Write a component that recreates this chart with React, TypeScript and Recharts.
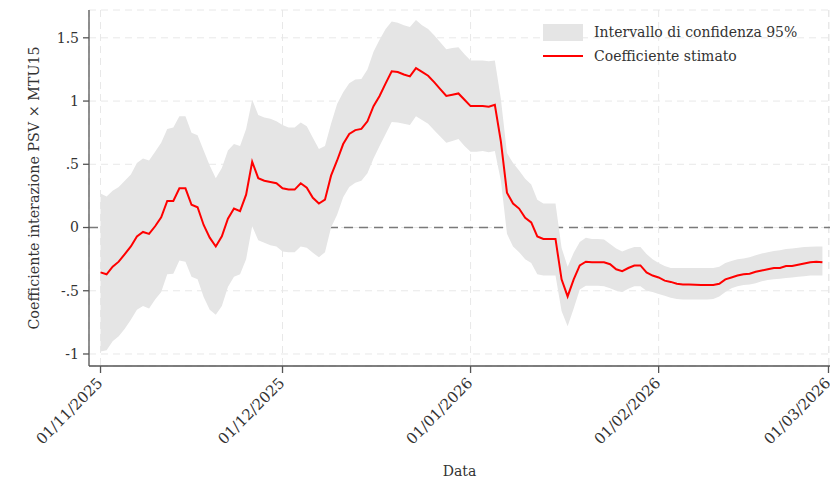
import { Area, CartesianGrid, ComposedChart, Line, ReferenceLine, XAxis, YAxis } from 'recharts'

// Coefficiente giornaliero stimato con intervallo di confidenza al 95%
// (giorno 0 = 01/11/2025)

const coef = [
  -0.355, -0.37, -0.31, -0.27, -0.21, -0.15, -0.07, -0.035, -0.05, 0.01,
  0.08, 0.21, 0.21, 0.31, 0.31, 0.18, 0.16, 0.02, -0.08, -0.15,
  -0.07, 0.07, 0.15, 0.13, 0.26, 0.52, 0.39, 0.37, 0.36, 0.35,
  0.31, 0.3, 0.3, 0.35, 0.315, 0.235, 0.19, 0.22, 0.41, 0.53,
  0.66, 0.74, 0.77, 0.78, 0.84, 0.96, 1.04, 1.14, 1.235, 1.23,
  1.21, 1.195, 1.26, 1.23, 1.2, 1.15, 1.095, 1.04, 1.05, 1.06,
  1.01, 0.96, 0.96, 0.96, 0.955, 0.97, 0.68, 0.275, 0.19, 0.15,
  0.077, 0.04, -0.07, -0.09, -0.09, -0.09, -0.41, -0.545, -0.41, -0.3,
  -0.27, -0.275, -0.275, -0.275, -0.29, -0.33, -0.345, -0.32, -0.3, -0.3,
  -0.355, -0.38, -0.395, -0.42, -0.43, -0.445, -0.45, -0.45, -0.452, -0.455,
  -0.455, -0.455, -0.445, -0.41, -0.395, -0.38, -0.37, -0.365, -0.35, -0.34,
  -0.33, -0.32, -0.32, -0.305, -0.305, -0.295, -0.285, -0.275, -0.27, -0.275,
]

const upper = [
  0.27, 0.245, 0.29, 0.32, 0.37, 0.42, 0.51, 0.545, 0.53, 0.6,
  0.67, 0.78, 0.79, 0.88, 0.88, 0.75, 0.73, 0.61, 0.49, 0.39,
  0.47, 0.61, 0.66, 0.645, 0.78, 1.01, 0.89, 0.87, 0.86, 0.84,
  0.81, 0.79, 0.79, 0.83, 0.8, 0.71, 0.62, 0.645, 0.82, 0.976,
  1.07, 1.14, 1.17, 1.175, 1.25, 1.39, 1.485, 1.57, 1.63, 1.62,
  1.6, 1.585, 1.64, 1.6, 1.57, 1.52, 1.465, 1.41, 1.42, 1.425,
  1.37, 1.32, 1.32, 1.32, 1.315, 1.32, 1.015, 0.59, 0.51, 0.45,
  0.385, 0.34, 0.22, 0.19, 0.19, 0.19, -0.16, -0.31, -0.2, -0.115,
  -0.08, -0.09, -0.09, -0.095, -0.13, -0.165, -0.19, -0.17, -0.155, -0.155,
  -0.21, -0.25, -0.28, -0.305, -0.32, -0.32, -0.32, -0.32, -0.32, -0.32,
  -0.32, -0.32, -0.31, -0.28, -0.265, -0.25, -0.245, -0.235, -0.22, -0.205,
  -0.195, -0.185, -0.18, -0.17, -0.165, -0.16, -0.155, -0.152, -0.15, -0.15,
]

const lower = [
  -0.98, -0.97, -0.9, -0.86, -0.8, -0.73, -0.65, -0.62, -0.64, -0.57,
  -0.51, -0.37, -0.365, -0.26, -0.27, -0.39, -0.41, -0.55, -0.65, -0.69,
  -0.62, -0.47, -0.39, -0.37, -0.25, 0.01, -0.1, -0.12, -0.14, -0.15,
  -0.19, -0.195, -0.195, -0.15, -0.16, -0.2, -0.235, -0.195, 0.0, 0.1,
  0.24, 0.32, 0.355, 0.37, 0.43, 0.545, 0.645, 0.74, 0.835, 0.83,
  0.82, 0.81, 0.88, 0.85, 0.82, 0.77, 0.72, 0.67, 0.685, 0.7,
  0.645, 0.6, 0.6, 0.605, 0.595, 0.605, 0.37, -0.05, -0.15, -0.195,
  -0.25, -0.28, -0.37, -0.38, -0.38, -0.38, -0.66, -0.78, -0.64, -0.49,
  -0.46, -0.46, -0.46, -0.465, -0.48, -0.5, -0.51, -0.485, -0.465, -0.465,
  -0.5, -0.51, -0.525, -0.54, -0.555, -0.565, -0.57, -0.57, -0.57, -0.57,
  -0.57, -0.565, -0.545, -0.51, -0.48, -0.465, -0.455, -0.45, -0.44, -0.425,
  -0.415, -0.41, -0.405, -0.4, -0.395, -0.39, -0.385, -0.38, -0.38, -0.38,
]

const xTicks = [0, 30, 61, 92, 120]
const xTickLabels = ['01/11/2025', '01/12/2025', '01/01/2026', '01/02/2026', '01/03/2026']
const yTicks = [-1, -0.5, 0, 0.5, 1, 1.5]
const yTickLabels = ['-1', '-.5', '0', '.5', '1', '1.5']

const data = coef.map((c, i) => ({ day: i, coef: c, band: [lower[i], upper[i]] }))

const FONT = '"DejaVu Serif", serif'
const INK = '#333'
const AXIS = '#555'

function DateTick({ x, y, payload }: any) {
  const idx = xTicks.indexOf(payload.value)
  const ax = x + 3
  const ay = y + 9
  return (
    <text
      x={ax}
      y={ay}
      transform={`rotate(-45 ${ax} ${ay})`}
      textAnchor="end"
      fontFamily={FONT}
      fontSize={15}
      fill={INK}
    >
      {xTickLabels[idx]}
    </text>
  )
}

function YTitle({ viewBox }: any) {
  const cy = viewBox.y + viewBox.height / 2
  return (
    <text x={39} y={cy} transform={`rotate(-90 39 ${cy})`} textAnchor="middle" fontFamily={FONT} fontSize={14.3} fill={INK}>
      Coefficiente interazione PSV × MTU15
    </text>
  )
}

function XTitle({ viewBox }: any) {
  const cx = viewBox.x + viewBox.width / 2
  return (
    <text x={cx} y={476} textAnchor="middle" fontFamily={FONT} fontSize={14} fill={INK}>
      Data
    </text>
  )
}

function ChartLegend() {
  const row = { display: 'flex', alignItems: 'center', height: 24 } as const
  return (
    <div style={{ position: 'absolute', left: 543, top: 20, fontFamily: FONT, fontSize: 14, color: INK }}>
      <div style={row}>
        <span style={{ width: 40, height: 17, background: '#e5e5e5', marginRight: 11 }} />
        <span>Intervallo di confidenza 95%</span>
      </div>
      <div style={row}>
        <span style={{ width: 40, height: 2.5, background: '#ff0000', marginRight: 11 }} />
        <span>Coefficiente stimato</span>
      </div>
    </div>
  )
}

export default function App() {
  return (
    <div style={{ position: 'absolute', left: 0, top: 0, width: 830, height: 482, background: '#fff' }}>
      <ComposedChart width={830} height={482} data={data} margin={{ top: 10, right: 0, bottom: 0, left: 0 }}>
        <CartesianGrid stroke="#e8e8e8" strokeDasharray="7 5" />
        <XAxis
          type="number"
          dataKey="day"
          domain={[-1.9, 120.25]}
          allowDataOverflow
          ticks={xTicks}
          interval={0}
          height={116}
          tickSize={7}
          stroke={AXIS}
          strokeWidth={1.3}
          tick={<DateTick />}
          label={<XTitle />}
        />
        <YAxis
          type="number"
          domain={[-1.095, 1.72]}
          allowDataOverflow
          ticks={yTicks}
          interval={0}
          width={89}
          tickSize={6}
          tickMargin={4}
          stroke={AXIS}
          strokeWidth={1.3}
          tickFormatter={(v: number) => yTickLabels[yTicks.indexOf(v)]}
          tick={{ fontFamily: FONT, fontSize: 14, fill: INK }}
          label={<YTitle />}
        />
        {/* la linea dello zero resta sotto la banda */}
        <ReferenceLine y={0} stroke="#7a7a7a" strokeWidth={1.4} strokeDasharray="9 6" zIndex={50} />
        <Area
          type="linear"
          dataKey="band"
          stroke="none"
          fill="#e5e5e5"
          fillOpacity={1}
          isAnimationActive={false}
          name="Intervallo di confidenza 95%"
        />
        <Line
          type="linear"
          dataKey="coef"
          stroke="#ff0000"
          strokeWidth={2}
          dot={false}
          isAnimationActive={false}
          name="Coefficiente stimato"
        />
      </ComposedChart>
      <ChartLegend />
    </div>
  )
}
